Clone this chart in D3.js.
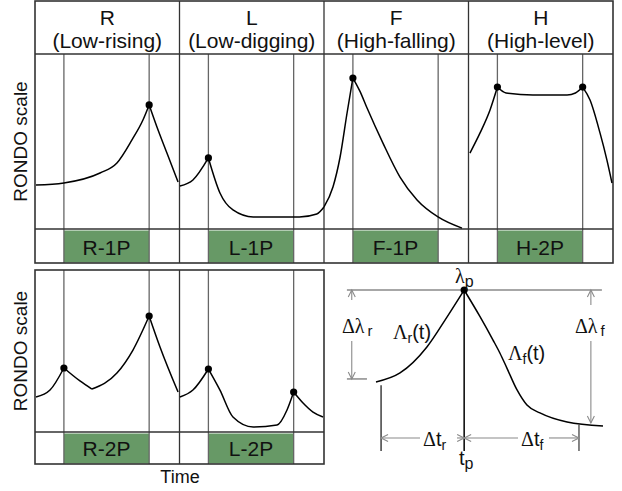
<!DOCTYPE html>
<html>
<head>
<meta charset="utf-8">
<script src="https://cdn.jsdelivr.net/npm/d3@7"></script>
<style>
body { margin: 0; background: #fff; }
text { font-family: "Liberation Sans", Arial, Helvetica, sans-serif; fill: #111; }
.greek { font-family: "Liberation Serif", "Times New Roman", serif; }
</style>
</head>
<body>
<div id="chart"></div>
<script>
// tone panels
var tones = ["R", "L", "F", "H"];
var toneNames = ["(Low-rising)", "(Low-digging)", "(High-falling)", "(High-level)"];
var topLabels = ["R-1P", "L-1P", "F-1P", "H-2P"];
var bottomLabels = ["R-2P", "L-2P"];
var onsets = [2, 7.9];

// [time, RONDO value]
var r1p = [[0.07, 25.1], [2, 26.3], [4.5, 32], [5.67, 37.7], [6.71, 50.9], [7.47, 62.3], [7.9, 70.9], [8.44, 58.3], [9.13, 43.4], [9.9, 26.9]];
var r1pPeaks = [[7.9, 70.9]];
var l1p = [[0.03, 24.6], [0.93, 28], [2, 40.6], [2.8, 20.6], [3.7, 10.9], [5.1, 6.9], [7.85, 6.9], [8.3, 6.9], [9.5, 8.6], [10, 12.6]];
var l1pPeaks = [[2, 40.6]];
var f1p = [[0, 12.6], [0.62, 24], [1.11, 41], [1.59, 66], [2, 86.3], [2.5, 78.5], [2.98, 69.1], [4.08, 49.1], [5.26, 29.7], [6.44, 16.6], [7.89, 6.9], [9.55, 0.5]];
var f1pPeaks = [[2, 86.3]];
var h2p = [[0.1, 43.4], [0.8, 54.9], [1.49, 68], [2, 81.1], [2.6, 77.7], [4.46, 76.6], [6.82, 76.6], [7.4, 77.7], [7.9, 81.1], [8.41, 73.7], [9.1, 54.9], [9.58, 39.4], [9.93, 26.3]];
var h2pPeaks = [[2, 81.1], [7.9, 81.1]];
var r2p = [[0.07, 21.6], [1.04, 25.9], [2, 39.5], [3.11, 31.5], [3.94, 26.5], [5.67, 36.4], [6.78, 50.6], [7.9, 71.6], [8.65, 52.5], [9.9, 24.7]];
var r2pPeaks = [[2, 39.5], [7.9, 71.6]];
var l2p = [[0.03, 21.6], [0.93, 25.9], [2, 38.9], [2.8, 25.9], [3.7, 9.3], [5.1, 3.1], [6.75, 4.3], [7.44, 13.6], [7.9, 24.7], [8.55, 17.9], [9.24, 12.3], [9.93, 9.3]];
var l2pPeaks = [[2, 38.9], [7.9, 24.7]];

// rise / fall schematic
var shape = [[-4, 3.24], [-2.91, 3.9], [-1.69, 5.81], [-0.78, 8.01], [0, 10], [0.72, 8.04], [1.31, 6.32], [1.62, 5.37], [1.94, 4.26], [2.4, 2.65], [2.85, 1.54], [3.44, 0.96], [4.67, 0.29], [6.3, 0]];

var width = 622, height = 491;
var svg = d3.select("#chart").append("svg")
    .attr("width", width)
    .attr("height", height);

var left = 35, pw = 144.5;
var rows = [
    { top: 1, head: 54, plot: 229, bottom: 263, n: 4, labels: topLabels },
    { top: 270, head: 270, plot: 432, bottom: 464, n: 2, labels: bottomLabels }
];
var series = [
    { row: 0, panel: 0, pts: r1p, peaks: r1pPeaks, cuts: [] },
    { row: 0, panel: 1, pts: l1p, peaks: l1pPeaks, cuts: [] },
    { row: 0, panel: 2, pts: f1p, peaks: f1pPeaks, cuts: [] },
    { row: 0, panel: 3, pts: h2p, peaks: h2pPeaks, cuts: [] },
    { row: 1, panel: 0, pts: r2p, peaks: r2pPeaks, cuts: [3.94] },
    { row: 1, panel: 1, pts: l2p, peaks: l2pPeaks, cuts: [] }
];

function xScale(i) {
    var x0 = left + i * pw;
    return d3.scaleLinear().domain([0, 10]).range([x0, x0 + pw]);
}
rows.forEach(r => {
    r.y = d3.scaleLinear().domain([0, 100]).range([r.plot, r.head]);
});

// break a curve at its peaks so the peaks stay pointed
function segments(pts, cuts) {
    var segs = [[]];
    pts.forEach(p => {
        segs[segs.length - 1].push(p);
        if (cuts.indexOf(p[0]) >= 0) segs.push([p]);
    });
    return segs.filter(s => s.length > 1);
}

var frame = "#333", grid = "#666", green = "#679966", arrowC = "#8a8a8a";

rows.forEach((r, ri) => {
    var g = svg.append("g");
    var right = left + r.n * pw;
    for (var i = 0; i < r.n; i++) {
        var x = xScale(i);
        // green tone box
        g.append("rect")
            .attr("x", x(onsets[0])).attr("y", r.plot + 1.5)
            .attr("width", x(onsets[1]) - x(onsets[0]))
            .attr("height", r.bottom - r.plot - 2)
            .attr("fill", green);
        g.append("text")
            .attr("x", (x(onsets[0]) + x(onsets[1])) / 2)
            .attr("y", r.bottom - 8.5)
            .attr("text-anchor", "middle")
            .attr("font-size", 21)
            .text(r.labels[i]);
        onsets.forEach(o => {
            g.append("line")
                .attr("x1", x(o)).attr("x2", x(o))
                .attr("y1", r.head).attr("y2", r.bottom)
                .attr("stroke", grid).attr("stroke-width", 1.3);
        });
        if (i > 0) {
            g.append("line")
                .attr("x1", x(0)).attr("x2", x(0))
                .attr("y1", r.top).attr("y2", r.bottom)
                .attr("stroke", frame).attr("stroke-width", 1.3);
        }
        if (ri == 0) {
            g.append("text")
                .attr("x", x(5)).attr("y", 25)
                .attr("text-anchor", "middle").attr("font-size", 21)
                .text(tones[i]);
            g.append("text")
                .attr("x", x(5)).attr("y", 48)
                .attr("text-anchor", "middle").attr("font-size", 21)
                .text(toneNames[i]);
        }
    }
    if (ri == 0) {
        g.append("line")
            .attr("x1", left).attr("x2", right)
            .attr("y1", r.head).attr("y2", r.head)
            .attr("stroke", frame).attr("stroke-width", 1.3);
    }
    g.append("line")
        .attr("x1", left).attr("x2", right)
        .attr("y1", r.plot).attr("y2", r.plot)
        .attr("stroke", frame).attr("stroke-width", 1.3);
    g.append("rect")
        .attr("x", left).attr("y", r.top)
        .attr("width", right - left).attr("height", r.bottom - r.top)
        .attr("fill", "none").attr("stroke", frame).attr("stroke-width", 1.6);

    // y label
    g.append("text")
        .attr("transform", "translate(27," + ((r.head + r.plot) / 2) + ") rotate(-90)")
        .attr("text-anchor", "middle").attr("font-size", 19)
        .text("RONDO scale");
});

svg.append("text")
    .attr("x", 180).attr("y", 483)
    .attr("text-anchor", "middle").attr("font-size", 18)
    .text("Time");

// tone curves
series.forEach(s => {
    var x = xScale(s.panel), y = rows[s.row].y;
    var line = d3.line().x(d => x(d[0])).y(d => y(d[1])).curve(d3.curveMonotoneX);
    var cuts = s.peaks.map(p => p[0]).concat(s.cuts);
    segments(s.pts, cuts).forEach(seg => {
        svg.append("path")
            .attr("d", line(seg))
            .attr("fill", "none")
            .attr("stroke", "#000")
            .attr("stroke-width", 1.5);
    });
    svg.selectAll(null).data(s.peaks).enter().append("circle")
        .attr("cx", d => x(d[0])).attr("cy", d => y(d[1]))
        .attr("r", 3.6).attr("fill", "#000");
});

// schematic of a single peak
var xd = d3.scaleLinear().domain([-4, 6.3]).range([376, 603]);
var yd = d3.scaleLinear().domain([0, 10]).range([426, 290]);
var d = svg.append("g");
var tStart = -3.77, tEnd = 5.21, tLeftArrow = -5.1, tRightArrow = 5.75;
var vArrow = -0.88, vBase = -1.84;

function arrowHead(x, y, dir) {
    var a = 3.5, b = 7;
    var p = {
        up: [[x - a, y + b], [x, y], [x + a, y + b]],
        down: [[x - a, y - b], [x, y], [x + a, y - b]],
        left: [[x + b, y - a], [x, y], [x + b, y + a]],
        right: [[x - b, y - a], [x, y], [x - b, y + a]]
    }[dir];
    d.append("path").attr("d", d3.line()(p))
        .attr("fill", "none").attr("stroke", arrowC).attr("stroke-width", 1.1);
}
function seg(x1, y1, x2, y2, c, w) {
    d.append("line")
        .attr("x1", x1).attr("y1", y1).attr("x2", x2).attr("y2", y2)
        .attr("stroke", c).attr("stroke-width", w);
}

// peak level line
seg(xd(-5.32), yd(10), xd(6.25), yd(10), arrowC, 1.5);
seg(xd(-5.32), yd(3.46), xd(-4.41), yd(3.46), arrowC, 1.5);

// Δλ arrows
seg(xd(tLeftArrow), yd(10), xd(tLeftArrow), 300, arrowC, 1.1);
seg(xd(tLeftArrow), 341, xd(tLeftArrow), yd(3.46), arrowC, 1.1);
arrowHead(xd(tLeftArrow), yd(10), "up");
arrowHead(xd(tLeftArrow), yd(3.46), "down");
seg(xd(tRightArrow), yd(10), xd(tRightArrow), 305, arrowC, 1.1);
seg(xd(tRightArrow), 341, xd(tRightArrow), yd(0.22), arrowC, 1.1);
arrowHead(xd(tRightArrow), yd(10), "up");
arrowHead(xd(tRightArrow), yd(0.22), "down");

// time markers
seg(xd(0), yd(10), xd(0), yd(vBase), "#000", 1.5);
seg(xd(tStart), yd(3.0), xd(tStart), yd(vBase), "#222", 1.3);
seg(xd(tEnd), yd(0.1), xd(tEnd), yd(vBase), "#444", 1.3);

// Δt arrows
var ya = yd(vArrow);
seg(xd(tStart), ya, 420, ya, arrowC, 1.1);
seg(457, ya, xd(0), ya, arrowC, 1.1);
arrowHead(xd(tStart), ya, "left");
arrowHead(xd(0), ya, "right");
seg(xd(0), ya, 518, ya, arrowC, 1.1);
seg(549, ya, xd(tEnd), ya, arrowC, 1.1);
arrowHead(xd(0), ya, "left");
arrowHead(xd(tEnd), ya, "right");

// the curve itself
var sline = d3.line().x(p => xd(p[0])).y(p => yd(p[1])).curve(d3.curveMonotoneX);
segments(shape, [0]).forEach(s => {
    d.append("path").attr("d", sline(s))
        .attr("fill", "none").attr("stroke", "#000").attr("stroke-width", 1.5);
});
d.append("circle").attr("cx", xd(0)).attr("cy", yd(10)).attr("r", 3.6).attr("fill", "#000");

// schematic labels
function label(x, y, parts) {
    var t = d.append("text").attr("x", x).attr("y", y).attr("font-size", 20);
    parts.forEach(p => {
        var ts = t.append("tspan").text(p.s);
        if (p.greek) ts.attr("class", "greek");
        if (p.size) ts.attr("font-size", p.size);
        if (p.dy) ts.attr("dy", p.dy);
        if (p.dx) ts.attr("dx", p.dx);
    });
    return t;
}
label(455, 283, [{ s: "λ", greek: true }, { s: "p", size: 16, dy: 4 }]);
label(342, 333, [{ s: "Δλ", greek: true }, { s: "r", size: 15, dx: 3, dy: 3 }]);
label(575, 333, [{ s: "Δλ", greek: true }, { s: "f", size: 15, dx: 3, dy: 3 }]);
label(393, 339, [{ s: "Λ", greek: true }, { s: "r", size: 14, dy: 4 }, { s: "(t)", dy: -4 }]);
label(508, 360, [{ s: "Λ", greek: true }, { s: "f", size: 14, dy: 4 }, { s: "(t)", dy: -4 }]);
label(423, 446, [{ s: "Δ", greek: true }, { s: "t" }, { s: "r", size: 14, dy: 4 }]);
label(521, 446, [{ s: "Δ", greek: true }, { s: "t" }, { s: "f", size: 14, dy: 4 }]);
label(459, 465, [{ s: "t" }, { s: "p", size: 16, dy: 4 }]);
</script>
</body>
</html>
